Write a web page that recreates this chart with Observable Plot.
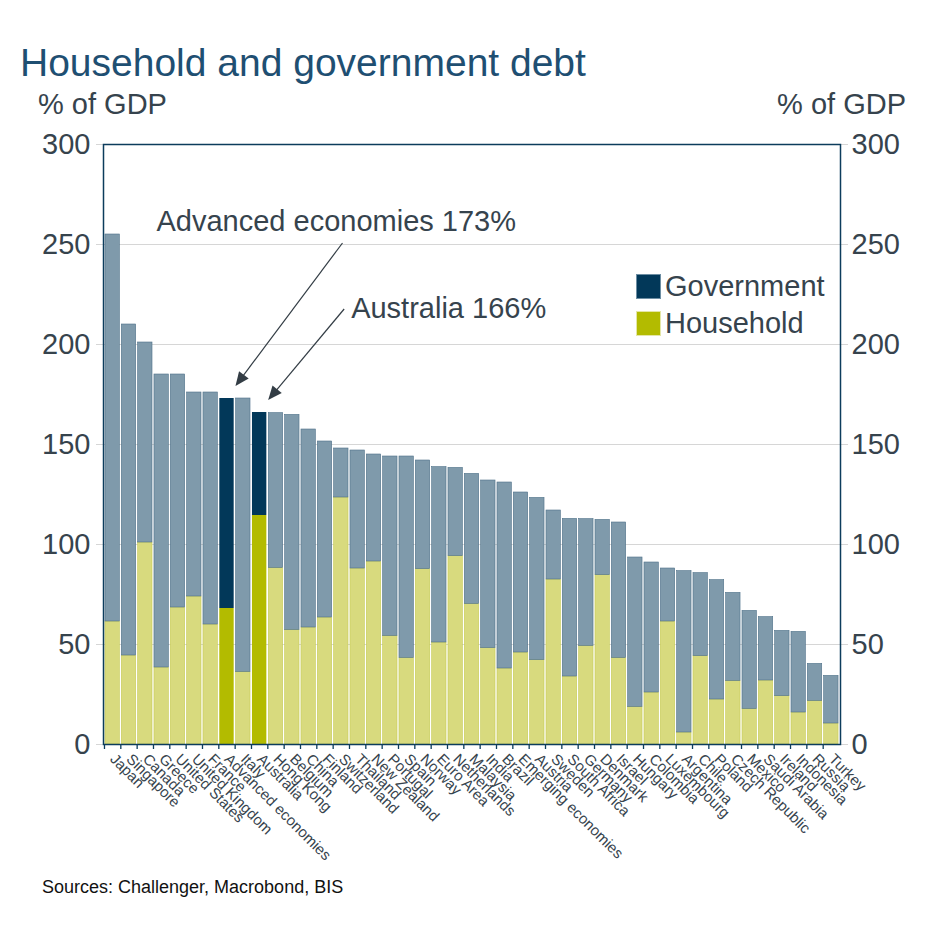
<!DOCTYPE html>
<html>
<head>
<meta charset="utf-8">
<script src="https://cdn.jsdelivr.net/npm/d3@7"></script>
<script src="https://cdn.jsdelivr.net/npm/@observablehq/plot@0.6"></script>
<style>
  body { margin: 0; background: #fff; }
  #wrap { position: relative; width: 943px; height: 943px; font-family: "Liberation Sans", Arial, sans-serif; color: #36434d; }
  .abs { position: absolute; line-height: 1; white-space: nowrap; }
  #title { left: 20px; top: 43px; font-size: 39px; color: #1f4f72; }
  .unit { top: 90px; font-size: 29px; }
  #unitL { left: 38px; }
  #unitR { right: 37px; }
  #chart { left: 0; top: 120px; }
  #legend { left: 636px; top: 268px; font-size: 29px; }
  .item { display: flex; align-items: center; height: 37px; }
  .sw { width: 25px; height: 25px; margin-right: 4px; box-sizing: border-box; }
  #caption { left: 42px; top: 878px; font-size: 18px; color: #111; }
</style>
</head>
<body>
<div id="wrap">
  <div id="title" class="abs">Household and government debt</div>
  <div id="unitL" class="abs unit">% of GDP</div>
  <div id="unitR" class="abs unit">% of GDP</div>
  <div id="chart" class="abs"></div>
  <div id="legend" class="abs"></div>
  <div id="caption" class="abs">Sources: Challenger, Macrobond, BIS</div>
</div>
<script>
// Debt as % of GDP, sorted by total (household + government)
const countries = [
  "Japan", "Singapore", "Canada", "Greece", "United States", "United Kingdom", "France",
  "Advanced economies", "Italy", "Australia", "Hong Kong", "Belgium", "China", "Finland",
  "Switzerland", "Thailand", "New Zealand", "Portugal", "Spain", "Norway", "Euro Area",
  "Netherlands", "Malaysia", "India", "Brazil", "Emerging economies", "Austria", "Sweden",
  "South Africa", "Germany", "Denmark", "Israel", "Hungary", "Colombia", "Luxembourg",
  "Argentina", "Chile", "Poland", "Czech Republic", "Mexico", "Saudi Arabia", "Ireland",
  "Indonesia", "Russia", "Turkey"
];
const totalDebt = [
  255, 210, 201, 185, 185, 176, 176,
  173, 173, 166, 165.7, 164.8, 157.5, 151.5,
  148, 147, 145, 144, 144, 142, 138.7,
  138.3, 135.3, 132, 131, 126, 123.3, 117,
  112.8, 112.7, 112.3, 111, 93.5, 91, 88,
  86.7, 85.7, 82.2, 75.8, 66.8, 63.7, 56.8,
  56.3, 40.3, 34.3
];
const householdDebt = [
  61.5, 44.5, 101, 38.5, 68.5, 74, 60,
  68, 36.3, 114.5, 88.3, 57.3, 58.5, 63.5,
  123.5, 88, 91.5, 54.3, 43.3, 87.7, 51,
  94.2, 70.3, 48.2, 38, 46, 42.2, 82.5,
  34, 49.3, 84.7, 43.3, 18.8, 26, 61.5,
  6, 44.2, 22.5, 31.8, 17.8, 32, 24.2,
  16, 21.8, 10.5
];
const highlighted = ["Advanced economies", "Australia"];
const yTicks = [0, 50, 100, 150, 200, 250, 300];

const colors = {
  gov: "#7f9aab", govStroke: "#4f7189",
  house: "#d8da7e", houseStroke: "#c6ca52",
  govHi: "#023859", houseHi: "#b3bb00",
  frame: "#0c3c5c", grid: "#d6d6d6", text: "#36434d", note: "#333d45"
};

const rows = countries.map((country, i) => ({
  country,
  total: totalDebt[i],
  household: householdDebt[i],
  highlight: highlighted.includes(country)
}));

// Callouts pointing at the highlighted bars (offsets in pixels from the arrow tip)
const notes = [
  {country: "Advanced economies", from: [107, -143], text: [-79, -155]},
  {country: "Australia", from: [76, -91], text: [83, -82]}
];

function callouts(index, scales) {
  const x = scales.x, y = scales.y;
  const bw = x.bandwidth ? x.bandwidth() : 0;
  const g = d3.create("svg:g");
  for (const n of notes) {
    const row = rows.find(r => r.country === n.country);
    const tx = x(n.country) + bw / 2 + 9;
    const ty = y(row.total) - 12;
    const sx = tx + n.from[0], sy = ty + n.from[1];
    const len = Math.hypot(tx - sx, ty - sy);
    const ux = (tx - sx) / len, uy = (ty - sy) / len;
    const px = -uy, py = ux;
    const hl = 14, hw = 6;
    g.append("line")
      .attr("x1", sx).attr("y1", sy)
      .attr("x2", tx - ux * (hl - 2)).attr("y2", ty - uy * (hl - 2))
      .attr("stroke", colors.note).attr("stroke-width", 1.2);
    g.append("path")
      .attr("d", `M${tx},${ty}L${tx - ux * hl + px * hw},${ty - uy * hl + py * hw}L${tx - ux * hl - px * hw},${ty - uy * hl - py * hw}Z`)
      .attr("fill", colors.note);
    g.append("text")
      .attr("x", tx + n.text[0]).attr("y", ty + n.text[1])
      .attr("text-anchor", "start")
      .attr("fill", colors.text)
      .attr("font-size", 29)
      .text(`${n.country} ${row.total}%`);
  }
  return g.node();
}

const width = 943, height = 760;
const marginLeft = 103, marginRight = 103, marginTop = 24, marginBottom = 136;
const pad = 0.12;
const step = (width - marginLeft - marginRight) / (countries.length - pad + 2 * pad);

const chart = Plot.plot({
  width, height, marginLeft, marginRight, marginTop, marginBottom,
  style: {fontFamily: "'Liberation Sans', Arial, sans-serif", color: colors.text, background: "transparent", overflow: "visible"},
  x: {domain: countries, padding: pad, round: false, label: null},
  y: {domain: [0, 300], label: null},
  marks: [
    Plot.gridY(yTicks, {stroke: colors.grid, strokeOpacity: 1, strokeWidth: 1}),
    Plot.barY(rows, {filter: d => !d.highlight, x: "country", y1: 0, y2: "household", fill: colors.house, stroke: colors.houseStroke, strokeWidth: 0.6}),
    Plot.barY(rows, {filter: d => !d.highlight, x: "country", y1: "household", y2: "total", fill: colors.gov, stroke: colors.govStroke, strokeWidth: 0.6}),
    Plot.barY(rows, {filter: d => d.highlight, x: "country", y1: 0, y2: "household", fill: colors.houseHi}),
    Plot.barY(rows, {filter: d => d.highlight, x: "country", y1: "household", y2: "total", fill: colors.govHi}),
    Plot.axisY(yTicks, {anchor: "left", tickSize: 7, tickPadding: 6, fontSize: 29, stroke: colors.grid, fill: colors.text}),
    Plot.axisY(yTicks, {anchor: "right", tickSize: 7, tickPadding: 4, fontSize: 29, stroke: colors.grid, fill: colors.text}),
    Plot.axisX({tickSize: 5, tickFormat: () => "", dx: -step / 2, stroke: colors.frame, strokeWidth: 1.3}),
    Plot.axisX({tickSize: 0, tickPadding: 12, tickRotate: 45, textAnchor: "start", fontSize: 15, fill: colors.text}),
    Plot.frame({stroke: colors.frame, strokeWidth: 1.5}),
    callouts
  ]
});
document.getElementById("chart").appendChild(chart);

// Legend
const legend = document.getElementById("legend");
for (const [label, fill, border] of [["Government", colors.govHi, "#6d8ea3"], ["Household", colors.houseHi, "#e4e6a6"]]) {
  const item = document.createElement("div");
  item.className = "item";
  const sw = document.createElement("div");
  sw.className = "sw";
  sw.style.background = fill;
  sw.style.border = `1px solid ${border}`;
  const t = document.createElement("span");
  t.textContent = label;
  item.append(sw, t);
  legend.append(item);
}
</script>
</body>
</html>
